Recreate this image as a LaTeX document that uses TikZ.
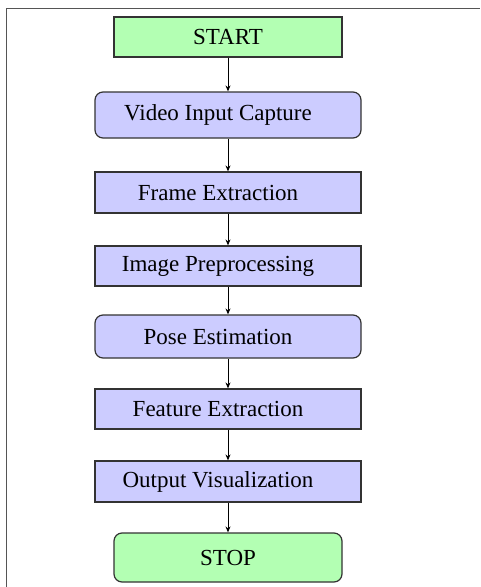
\documentclass[tikz,border=0pt]{standalone}
\usepackage{fontspec}
\setmainfont{Liberation Serif}
\usepackage{tikz}
\usetikzlibrary{arrows.meta}
\definecolor{startgreen}{HTML}{B3FFB3}
\definecolor{stepblue}{HTML}{CCCCFF}
\definecolor{edge}{HTML}{333333}
\definecolor{frame}{HTML}{555555}
\tikzset{
  procbox/.style={draw=edge, fill=stepblue, line width=1.2pt, minimum width=266pt, font=\fontsize{23}{25}\selectfont, inner sep=0pt, execute at end node={\hspace{20pt}}},
  roundbox/.style={procbox, rounded corners=8pt},
  termbox/.style={draw=edge, fill=startgreen, line width=1.2pt, minimum width=228pt, font=\fontsize{23}{25}\selectfont, inner sep=0pt},
  flow/.style={draw=black, line width=0.9pt, -{Stealth[length=6pt,width=5pt]}}
}
\begin{document}
\begin{tikzpicture}[x=1pt,y=-1pt]
  \useasboundingbox (0,0) rectangle (480,587);
  % outer frame, cut off at right and bottom
  \draw[frame, line width=1.5pt] (6.5,587) -- (6.5,8.5) -- (480,8.5);

  \node[termbox, minimum height=40pt] (start) at (228,37) {START};
  \node[roundbox, minimum height=46pt] (video) at (228,115) {Video Input Capture};
  \node[procbox, minimum height=41pt] (frames) at (228,192.5) {Frame Extraction};
  \node[procbox, minimum height=40pt] (prep) at (228,266) {Image Preprocessing};
  \node[roundbox, minimum height=43pt] (pose) at (228,336.5) {Pose Estimation};
  \node[procbox, minimum height=40pt] (feat) at (228,409) {Feature Extraction};
  \node[procbox, minimum height=41pt] (outv) at (228,481.5) {Output Visualization};
  \node[termbox, rounded corners=8pt, minimum height=49pt] (stop) at (228,557.5) {STOP};

  \draw[flow] (start) -- (video);
  \draw[flow] (video) -- (frames);
  \draw[flow] (frames) -- (prep);
  \draw[flow] (prep) -- (pose);
  \draw[flow] (pose) -- (feat);
  \draw[flow] (feat) -- (outv);
  \draw[flow] (outv) -- (stop);
\end{tikzpicture}
\end{document}
